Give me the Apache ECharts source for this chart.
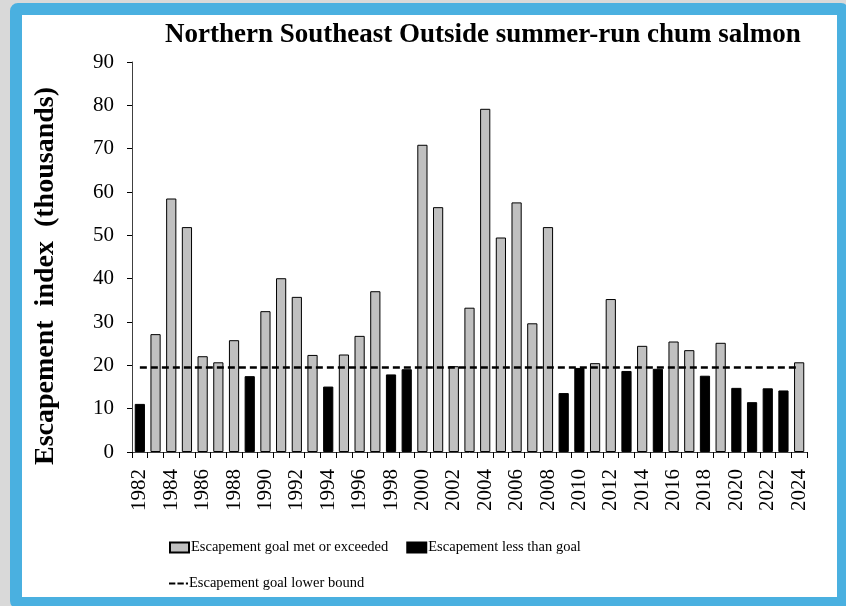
<!DOCTYPE html>
<html>
<head>
<meta charset="utf-8">
<script src="https://cdn.jsdelivr.net/npm/echarts@6/dist/echarts.min.js"></script>
<style>
  html, body { margin: 0; padding: 0; width: 846px; height: 606px; overflow: hidden; background: #d9d9d9; }
  #frame { position: absolute; left: 10px; top: 3px; width: 839px; height: 606px; background: #ffffff;
           border: 12px solid #4ab0e0; border-radius: 8px; box-sizing: border-box; }
  #chart { position: absolute; left: 0; top: 0; width: 846px; height: 606px; }
</style>
</head>
<body>
<div id="frame"></div>
<div id="chart"></div>
<script>
const years = ['1982','1983','1984','1985','1986','1987','1988','1989','1990','1991','1992','1993','1994','1995','1996','1997','1998','1999','2000','2001','2002','2003','2004','2005','2006','2007','2008','2009','2010','2011','2012','2013','2014','2015','2016','2017','2018','2019','2020','2021','2022','2023','2024'];
const goalMet = [null,27.2,58.5,51.9,22.1,20.7,25.8,null,32.5,40.1,35.8,22.4,null,22.5,26.8,37.1,null,null,70.9,56.5,19.8,33.3,79.2,49.5,57.6,29.7,51.9,null,null,20.5,35.3,null,24.5,null,25.5,23.5,null,25.2,null,null,null,null,20.7];
const belowGoal = [11.1,null,null,null,null,null,null,17.5,null,null,null,null,15.1,null,null,null,17.9,19.1,null,null,null,null,null,null,null,null,null,13.6,19.4,null,null,18.7,null,19.2,null,null,17.6,null,14.8,11.5,14.7,14.2,null];
const goalLowerBound = 19.5;
const yTicks = { min: 0, max: 90, interval: 10 };

const font = 'Liberation Serif';
const dashIcon = 'path://M0,0h6v2h-6z M8,0h6v2h-6z M16,0h2v2h-2z';
const chart = echarts.init(document.getElementById('chart'), null, { renderer: 'canvas' });
chart.setOption({
  animation: false,
  backgroundColor: 'transparent',
  title: {
    text: 'Northern Southeast Outside summer-run chum salmon',
    left: 160, top: 17,
    textStyle: { fontFamily: font, fontWeight: 'bold', fontSize: 27, color: '#000' }
  },
  legend: [
    {
      data: [
        { name: 'Escapement goal met or exceeded', icon: 'rect' },
        { name: 'Escapement less than goal', icon: 'rect' }
      ],
      left: 169, top: 540, padding: 0, itemWidth: 19, itemHeight: 10, itemGap: 18,
      textStyle: { fontFamily: font, fontSize: 14.5, color: '#000', padding: [0, 0, 0, -3] }
    },
    {
      data: [{ name: 'Escapement goal lower bound', icon: dashIcon }],
      left: 169, top: 576, padding: 0, itemWidth: 19, itemHeight: 2.5,
      textStyle: { fontFamily: font, fontSize: 14.5, color: '#000', padding: [0, 0, 0, -4] }
    }
  ],
  grid: { left: 132, right: 39, top: 62, bottom: 154, containLabel: false },
  xAxis: {
    type: 'category',
    data: years,
    boundaryGap: true,
    axisLine: { lineStyle: { color: '#404040', width: 1 } },
    axisTick: { show: true, interval: 0, length: 6, lineStyle: { color: '#000' } },
    axisLabel: { interval: 1, rotate: 90, margin: 17, fontFamily: font, fontSize: 21, color: '#000' }
  },
  yAxis: {
    type: 'value',
    min: yTicks.min, max: yTicks.max, interval: yTicks.interval,
    name: 'Escapement  index  (thousands)',
    nameLocation: 'middle', nameGap: 72, nameRotate: 90,
    nameTextStyle: { fontFamily: font, fontWeight: 'bold', fontSize: 28, color: '#000', padding: [0, 38, 0, 0] },
    axisLine: { show: true, lineStyle: { color: '#404040', width: 1 } },
    axisTick: { show: true, length: 5, lineStyle: { color: '#000' } },
    axisLabel: { margin: 18, fontFamily: font, fontSize: 21, color: '#000' },
    splitLine: { show: false }
  },
  series: [
    {
      name: 'Escapement goal met or exceeded',
      type: 'bar', data: goalMet, barWidth: '65%', barGap: '-100%',
      itemStyle: { color: '#c0c0c0', borderColor: '#000', borderWidth: 1 }
    },
    {
      name: 'Escapement less than goal',
      type: 'bar', data: belowGoal, barWidth: '65%', barGap: '-100%',
      itemStyle: { color: '#000', borderColor: '#000', borderWidth: 1 }
    },
    {
      name: 'Escapement goal lower bound',
      type: 'line', data: years.map(() => goalLowerBound),
      symbol: 'none', z: 5,
      lineStyle: { color: '#000', width: 2.5, type: [7, 4] },
      itemStyle: { color: '#000' }
    }
  ]
});
</script>
</body>
</html>
